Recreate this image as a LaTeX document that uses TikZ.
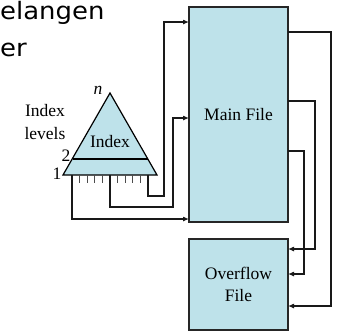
\documentclass[tikz,border=0pt]{standalone}
\usepackage{fontspec}
\setmainfont{Liberation Serif}
\newfontfamily\topfont{DejaVu Sans}
\usetikzlibrary{arrows.meta}
\definecolor{boxblue}{RGB}{190,226,234}
\begin{document}
\begin{tikzpicture}[x=1pt,y=-1pt,
  filebox/.style={draw=black!85, fill=boxblue, line width=1.2pt, inner sep=0pt, align=center, font=\fontsize{17.5}{22}\selectfont},
  conn/.style={draw=black!90, line width=1.1pt},
  arr/.style={conn, -{Latex[length=6pt,width=5pt]}},
  lbl/.style={font=\fontsize{17.5}{23}\selectfont, inner sep=0pt},
  toptext/.style={anchor=base west, inner sep=0pt, font=\topfont\fontsize{24}{24}\selectfont},
  tick/.style={draw=black!70, line width=0.7pt}]
\useasboundingbox (0,0) rectangle (338,333);
% boxes
\node[filebox, minimum width=99pt, minimum height=215pt] (main) at (238.5,114.5) {Main File};
\node[filebox, minimum width=99pt, minimum height=91pt] (over) at (238.5,284.5) {Overflow\\File};
% triangle index
\coordinate (apex) at (110,93);
\coordinate (bl) at (63,175);
\coordinate (br) at (157,175);
\draw[fill=boxblue, line width=1.2pt, line join=miter] (apex) -- (bl) -- (br) -- cycle;
\coordinate (l2a) at (72.5,159);
\coordinate (l2b) at (147.5,159);
\draw[line width=1.2pt] (l2a) -- (l2b);
\node[lbl] (idx) at (110,142) {Index};
\node[lbl] (nlab) at (98,90) {\textit{n}};
\node[lbl] (lab2) at (66,156) {2};
\node[lbl] (lab1) at (57,174) {1};
\node[lbl, align=center] (levels) at (45,122) {Index\\levels};
% ticks
\foreach \tx in {79.6,87.2,94.8,102.4,117.6,125.2,132.8,140.4}
  \draw[tick] (\tx,175) -- (\tx,183);
% base connectors
\coordinate (b1) at (72,175);
\coordinate (b2) at (110,175);
\coordinate (b3) at (148,175);
\coordinate (jA) at (164,196);
\coordinate (jB) at (173,207);
\coordinate (mA) at (189,22);
\coordinate (mB) at (189,118);
\coordinate (mC) at (189,219);
\draw[arr] (b3) |- (jA) |- (mA);
\draw[arr] (b2) |- (jB) |- (mB);
\draw[arr] (b1) |- (mC);
% right connectors
\coordinate (r1) at (288,32);
\coordinate (r2) at (288,101);
\coordinate (r3) at (288,151);
\coordinate (k1) at (331,306);
\coordinate (k2) at (315,249);
\coordinate (k3) at (304,274);
\coordinate (o1) at (288,306);
\coordinate (o2) at (288,249);
\coordinate (o3) at (288,274);
\draw[arr] (r1) -| (k1) -- (o1);
\draw[arr] (r2) -| (k2) -- (o2);
\draw[arr] (r3) -| (k3) -- (o3);
% top text
\node[toptext] (t1) at (0,19) {\scalebox{1.08}[1]{elangen}};
\node[toptext] (t2) at (0,56) {\scalebox{1.08}[1]{er}};
\end{tikzpicture}
\end{document}
